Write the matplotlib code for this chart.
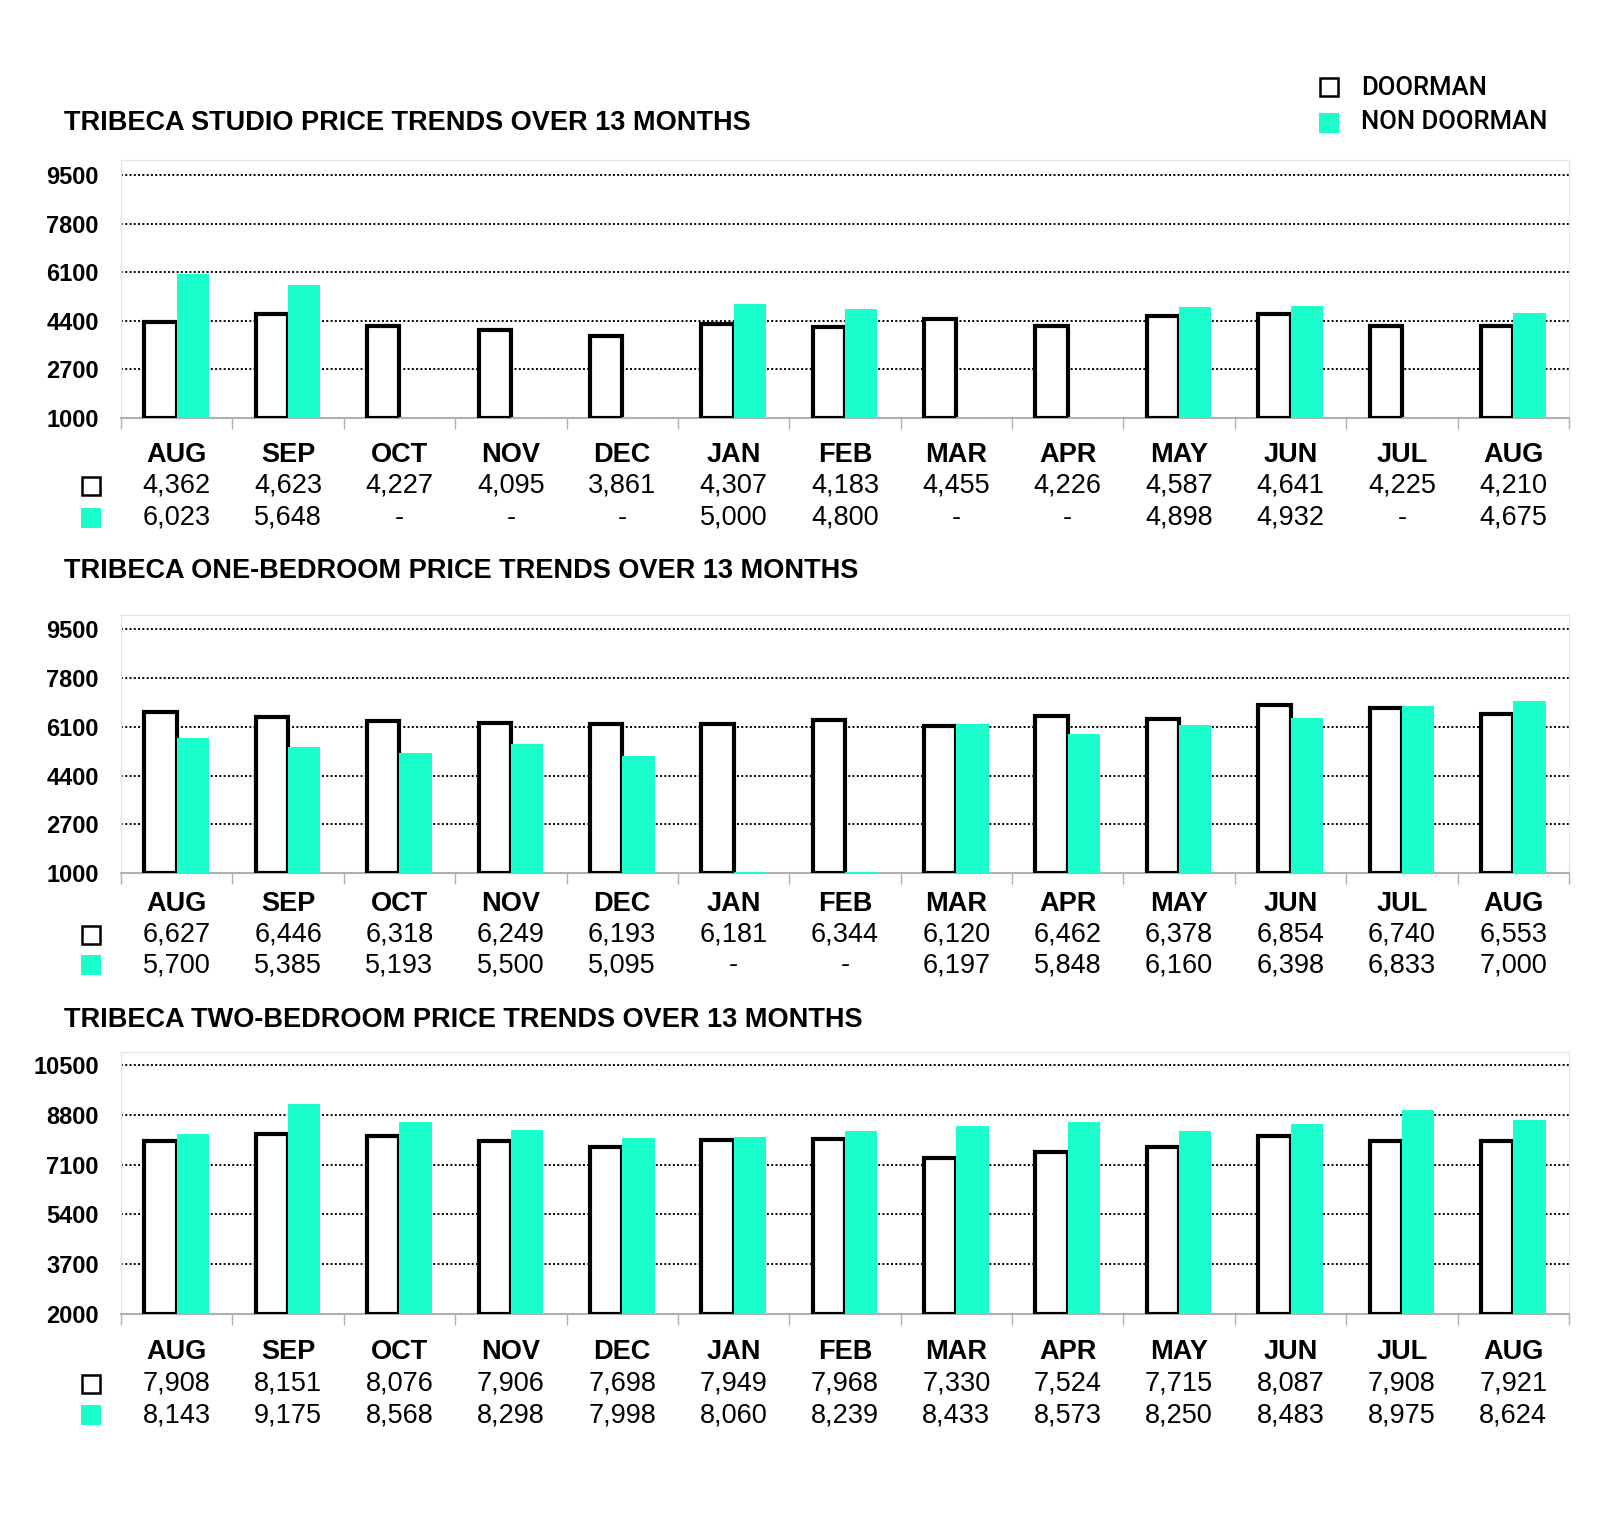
import matplotlib
matplotlib.use("Agg")
import matplotlib.pyplot as plt
from matplotlib.transforms import blended_transform_factory
from matplotlib.patches import Rectangle

months = ["AUG", "SEP", "OCT", "NOV", "DEC", "JAN", "FEB", "MAR", "APR", "MAY", "JUN", "JUL", "AUG"]

studio_doorman = [4362, 4623, 4227, 4095, 3861, 4307, 4183, 4455, 4226, 4587, 4641, 4225, 4210]
studio_non = [6023, 5648, None, None, None, 5000, 4800, None, None, 4898, 4932, None, 4675]

onebed_doorman = [6627, 6446, 6318, 6249, 6193, 6181, 6344, 6120, 6462, 6378, 6854, 6740, 6553]
onebed_non = [5700, 5385, 5193, 5500, 5095, None, None, 6197, 5848, 6160, 6398, 6833, 7000]

twobed_doorman = [7908, 8151, 8076, 7906, 7698, 7949, 7968, 7330, 7524, 7715, 8087, 7908, 7921]
twobed_non = [8143, 9175, 8568, 8298, 7998, 8060, 8239, 8433, 8573, 8250, 8483, 8975, 8624]

titles = ["TRIBECA STUDIO PRICE TRENDS OVER 13 MONTHS",
          "TRIBECA ONE-BEDROOM PRICE TRENDS OVER 13 MONTHS",
          "TRIBECA TWO-BEDROOM PRICE TRENDS OVER 13 MONTHS"]
ticks1 = [1000, 2700, 4400, 6100, 7800, 9500]
ticks3 = [2000, 3700, 5400, 7100, 8800, 10500]

TEAL = "#1affcc"
W, H = 1600, 1513

fig = plt.figure(figsize=(16, 15.13), dpi=100)

def fx(px):
    return px / W

def fy(py):
    return 1 - py / H

# pixel layout: (frame top, baseline, title y, months y, row1 y, row2 y, ymin, ymax, ticks)
panels = [
    (studio_doorman, studio_non, 160, 418, 123, 455, 486, 518, 1000, 10030, ticks1),
    (onebed_doorman, onebed_non, 615, 873, 571, 904, 935, 965, 1000, 10000, ticks1),
    (twobed_doorman, twobed_non, 1052, 1314, 1020, 1352, 1384, 1415, 2000, 10950, ticks3),
]

left_px, right_px = 121, 1569
x = list(range(len(months)))

for i, (door, non, top, base, ty, my, r1, r2, ymin, ymax, ticks) in enumerate(panels):
    ax = fig.add_axes([fx(left_px), fy(base), fx(right_px - left_px), (base - top) / H])
    ax.set_xlim(-0.5, len(months) - 0.5)
    ax.set_ylim(ymin, ymax)

    # gridlines
    for t in ticks[1:]:
        ax.axhline(t, color="black", linestyle=(0, (1, 1.2)), linewidth=1.4, zorder=1)

    ax.bar([k - 0.145 for k in x], [d - ymin for d in door], bottom=ymin, width=0.29,
           facecolor="white", edgecolor="black", linewidth=3.0, zorder=3)
    # missing values show up as a thin teal line on the baseline
    non_h = [(v - ymin) if v is not None else 45 for v in non]
    ax.bar([k + 0.145 for k in x], non_h, bottom=ymin, width=0.29,
           color=TEAL, linewidth=0, zorder=4)

    ax.set_yticks(ticks)
    ax.set_yticklabels([str(t) for t in ticks], fontsize=17, fontweight="bold",
                       family="Liberation Sans")
    ax.tick_params(axis="y", length=0, pad=16)
    ax.set_xticks([k - 0.5 for k in range(len(months) + 1)])
    ax.set_xticklabels([])
    ax.tick_params(axis="x", length=8, width=1, color="#b0b0b0", direction="out")
    for s in ["top", "left", "right"]:
        ax.spines[s].set_color("#e6e6e6")
        ax.spines[s].set_linewidth(1)
    ax.spines["bottom"].set_color("#b0b0b0")
    ax.spines["bottom"].set_linewidth(1.5)

    # title
    fig.text(fx(64), fy(ty), titles[i], fontsize=19.5, fontweight="bold",
             family="Liberation Sans", va="center", ha="left")

    # data table
    tr = blended_transform_factory(ax.transData, fig.transFigure)
    for k, m in enumerate(months):
        ax.text(k, fy(my), m, transform=tr, ha="center", va="center",
                fontsize=19.5, fontweight="bold", family="Liberation Sans")
        ax.text(k, fy(r1), f"{door[k]:,}", transform=tr, ha="center", va="center",
                fontsize=19.5, family="Liberation Sans")
        val = f"{non[k]:,}" if non[k] is not None else "-"
        ax.text(k, fy(r2), val, transform=tr, ha="center", va="center",
                fontsize=19.5, family="Liberation Sans")

    # row markers
    fig.patches.append(Rectangle((fx(82), fy(r1 + 9)), fx(18), 18 / H, transform=fig.transFigure,
                                 facecolor="white", edgecolor="black", linewidth=1.8))
    fig.patches.append(Rectangle((fx(81), fy(r2 + 10)), fx(20), 20 / H, transform=fig.transFigure,
                                 facecolor=TEAL, edgecolor="none"))

# legend
fig.patches.append(Rectangle((fx(1320), fy(96)), fx(18), 18 / H, transform=fig.transFigure,
                             facecolor="white", edgecolor="black", linewidth=1.8))
fig.patches.append(Rectangle((fx(1319), fy(133)), fx(20), 20 / H, transform=fig.transFigure,
                             facecolor=TEAL, edgecolor="none"))
fig.text(fx(1361), fy(88), "DOORMAN", fontsize=18.5, fontweight="medium", family="Roboto",
         va="center", ha="left")
fig.text(fx(1361), fy(122), "NON DOORMAN", fontsize=18.5, fontweight="medium", family="Roboto",
         va="center", ha="left")

fig.savefig("out.png", dpi=100, facecolor="white")
